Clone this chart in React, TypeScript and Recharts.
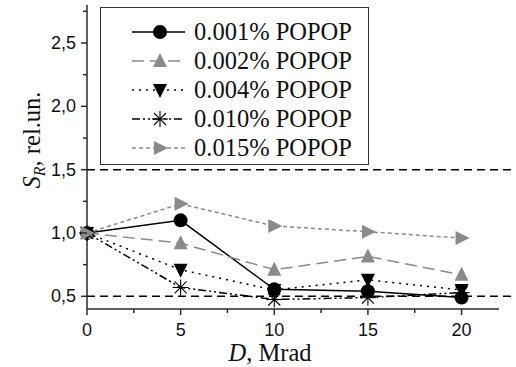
import { LineChart, Line, XAxis, YAxis, ReferenceLine, Legend } from 'recharts'

const doses = [0, 5, 10, 15, 20]
const s001 = [1.0, 1.1, 0.555, 0.54, 0.49]
const s002 = [1.0, 0.92, 0.71, 0.815, 0.67]
const s004 = [1.0, 0.71, 0.55, 0.63, 0.55]
const s010 = [1.0, 0.57, 0.475, 0.49, 0.53]
const s015 = [1.0, 1.23, 1.055, 1.01, 0.96]

const xTicks = [0, 2.5, 5, 7.5, 10, 12.5, 15, 17.5, 20]
const yTicks = [0.5, 0.75, 1.0, 1.25, 1.5, 1.75, 2.0, 2.25, 2.5, 2.75]
const refLevels = [0.5, 1.5]

const data = doses.map((d, i) => ({
  d,
  a: s001[i],
  b: s002[i],
  c: s004[i],
  e: s010[i],
  f: s015[i],
}))

const GRAY = '#8a8a8a'
const AXIS = '#2a2a2a'

type Shape = 'circle' | 'up' | 'down' | 'star' | 'right'

function Marker({ cx, cy, shape, color }: { cx: number; cy: number; shape: Shape; color: string }) {
  const s = 7
  if (shape === 'circle') return <circle cx={cx} cy={cy} r={7} fill={color} />
  if (shape === 'up')
    return <polygon points={`${cx - s},${cy + s - 1} ${cx + s},${cy + s - 1} ${cx},${cy - s - 1}`} fill={color} />
  if (shape === 'down')
    return <polygon points={`${cx - s},${cy - s + 1} ${cx + s},${cy - s + 1} ${cx},${cy + s + 1}`} fill={color} />
  if (shape === 'right')
    return <polygon points={`${cx - s + 1},${cy - s} ${cx - s + 1},${cy + s} ${cx + s + 1},${cy}`} fill={color} />
  const a = 8
  const b = 6
  return (
    <g stroke={color} strokeWidth={1.1}>
      <line x1={cx} y1={cy - a} x2={cx} y2={cy + a} />
      <line x1={cx - a} y1={cy} x2={cx + a} y2={cy} />
      <line x1={cx - b} y1={cy - b} x2={cx + b} y2={cy + b} />
      <line x1={cx - b} y1={cy + b} x2={cx + b} y2={cy - b} />
    </g>
  )
}

const series = [
  { key: 'a', name: '0.001% POPOP', color: '#000', dash: undefined, shape: 'circle' as Shape },
  { key: 'b', name: '0.002% POPOP', color: GRAY, dash: '12 6', shape: 'up' as Shape },
  { key: 'c', name: '0.004% POPOP', color: '#000', dash: '2 5', shape: 'down' as Shape },
  { key: 'e', name: '0.010% POPOP', color: '#000', dash: '8 3 2 3 2 3', shape: 'star' as Shape },
  { key: 'f', name: '0.015% POPOP', color: GRAY, dash: '4 3', shape: 'right' as Shape },
]

const XTick = (props: any) => {
  const { x, y, payload } = props
  const major = payload.value % 5 === 0
  return (
    <g>
      <line x1={x} x2={x} y1={y} y2={y + (major ? 6 : 4)} stroke={AXIS} strokeWidth={1.5} />
      {major && (
        <text x={x} y={y + 27} textAnchor="middle" fontFamily="Liberation Sans" fontSize={18} fill="#111">
          {payload.value}
        </text>
      )}
    </g>
  )
}

const YTick = (props: any) => {
  const { x, y, payload } = props
  const major = Math.abs(payload.value * 2 - Math.round(payload.value * 2)) < 1e-6
  return (
    <g>
      <line x1={x - (major ? 6 : 4)} x2={x} y1={y} y2={y} stroke={AXIS} strokeWidth={1.5} />
      {major && (
        <text x={x - 11} y={y + 6} textAnchor="end" fontFamily="Liberation Sans" fontSize={18} fill="#111">
          {payload.value.toFixed(1).replace('.', ',')}
        </text>
      )}
    </g>
  )
}

const LegendBox = () => (
  <div style={{ width: 269, height: 158, border: '1px solid #333', boxSizing: 'border-box', background: '#fff' }}>
    <svg width={267} height={156}>
      {series.map((s, i) => {
        const y = 24 + i * 29
        return (
          <g key={s.key}>
            <line x1={31} x2={84} y1={y} y2={y} stroke={s.color} strokeWidth={1.5} strokeDasharray={s.dash} />
            <Marker cx={59} cy={y} shape={s.shape} color={s.color} />
            <text x={93} y={y + 8} fontFamily="Liberation Serif" fontSize={24.5} fill="#111">
              {s.name}
            </text>
          </g>
        )
      })}
    </svg>
  </div>
)

export default function App() {
  return (
    <div style={{ position: 'absolute', left: 0, top: 0, background: '#fff' }}>
      <LineChart width={516} height={367} data={data} margin={{ top: 5, right: 17, bottom: 0, left: 0 }}>
        <XAxis
          dataKey="d"
          type="number"
          domain={[0, 22]}
          ticks={xTicks}
          interval={0}
          tickSize={0}
          tickMargin={0}
          tick={XTick}
          height={58}
          stroke={AXIS}
          strokeWidth={1.5}
          label={{
            position: 'insideBottom',
            content: () => (
              <text x={270} y={361} textAnchor="middle" fontFamily="Liberation Serif" fontSize={24.5} fill="#111">
                <tspan fontStyle="italic">D</tspan>, Mrad
              </text>
            ),
          }}
        />
        <YAxis
          type="number"
          domain={[0.4, 2.8]}
          ticks={yTicks}
          interval={0}
          tickSize={0}
          tickMargin={0}
          tick={YTick}
          width={87}
          stroke={AXIS}
          strokeWidth={1.5}
          label={{
            position: 'insideLeft',
            content: () => (
              <text
                x={40}
                y={140}
                transform="rotate(-90 40 140)"
                textAnchor="middle"
                fontFamily="Liberation Serif"
                fontSize={24.5}
                fill="#111"
              >
                <tspan fontStyle="italic">S</tspan>
                <tspan fontStyle="italic" fontSize={16} dy={5}>R</tspan>
                <tspan dy={-5}>, rel.un.</tspan>
              </text>
            ),
          }}
        />
        {refLevels.map((v) => (
          <ReferenceLine
            key={v}
            segment={[{ x: 0, y: v }, { x: 22.9, y: v }]}
            ifOverflow="visible"
            stroke="#000"
            strokeWidth={1.5}
            strokeDasharray="8 5"
          />
        ))}
        {series.map((s) => (
          <Line
            key={s.key}
            dataKey={s.key}
            name={s.name}
            stroke={s.color}
            strokeWidth={1.5}
            strokeDasharray={s.dash}
            isAnimationActive={false}
            dot={(p: any) => <Marker key={`${s.key}-${p.index}`} cx={p.cx} cy={p.cy} shape={s.shape} color={s.color} />}
            activeDot={false}
          />
        ))}
        <Legend
          layout="vertical"
          align="center"
          verticalAlign="middle"
          content={() => <LegendBox />}
          wrapperStyle={{ position: 'absolute', left: 100, top: 7, width: 269, height: 158 }}
        />
      </LineChart>
    </div>
  )
}
